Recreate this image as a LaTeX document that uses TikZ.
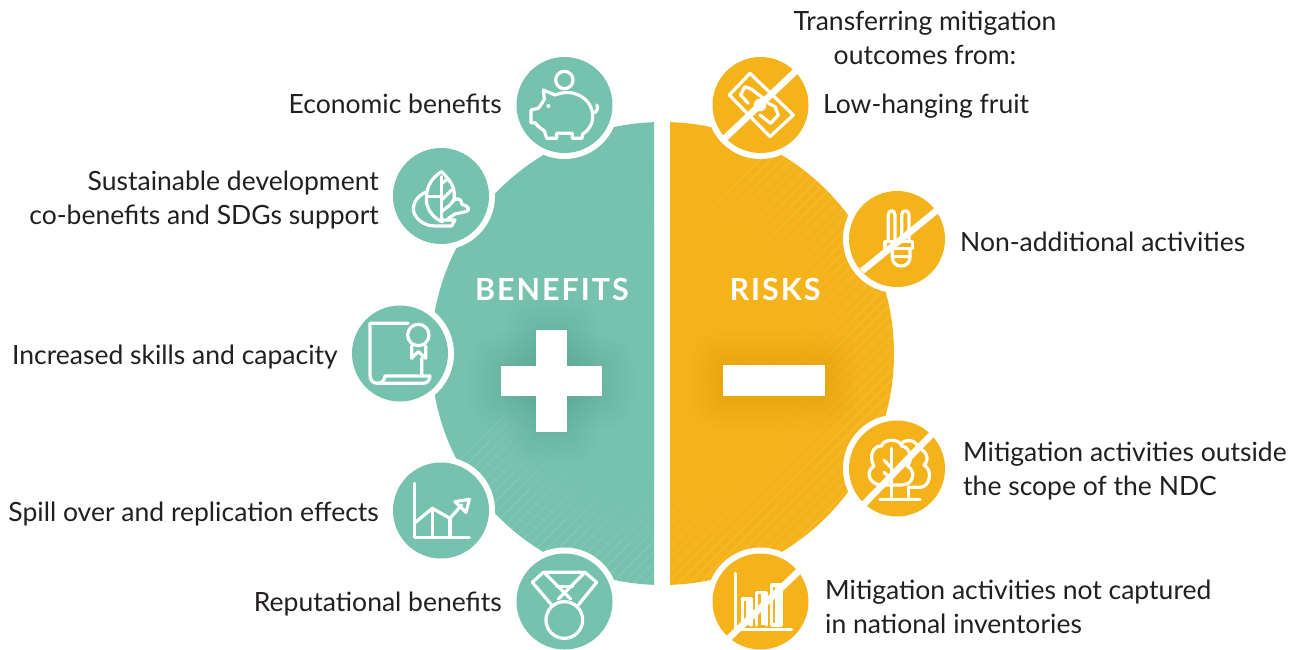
\documentclass[tikz,border=0pt]{standalone}
\usepackage{fontspec}
\setmainfont{Lato}
\newfontfamily\capsfont[LetterSpace=6.5]{Lato}
\definecolor{teal0}{HTML}{76C2AF}
\definecolor{amber0}{HTML}{F5B31B}
\definecolor{ink}{HTML}{231F20}
\tikzset{
  lbl/.style={inner sep=0pt,text=ink,font=\fontsize{26.5}{34}\selectfont},
  lblr/.style={lbl,anchor=east,align=right},
  lblrb/.style={lbl,anchor=base east},
  lbll/.style={lbl,anchor=west,align=left},
  lbllb/.style={lbl,anchor=base west},
  lblb/.style={lbl,anchor=center,align=center},
  head/.style={inner sep=0pt,text=white,anchor=base,font=\fontsize{30.5}{34}\capsfont\bfseries},
  badge/.style={circle,minimum size=96pt,inner sep=0pt,fill=#1},
  halo/.style={circle,minimum size=108pt,inner sep=0pt,fill=white},
  ic/.style={draw=white,line width=3.2pt,line join=round,line cap=round,fill=none},
  slash/.style={draw=white,line width=6.5pt},
  stripe/.style={draw=white,line width=0.9pt,opacity=0.13}
}
\newcommand{\softbox}[5]{% x1 y1 x2 y2 colour
  \foreach \g in {34,31,...,1}{
    \fill[#5,opacity=#5op,rounded corners=\g pt] (#1-\g,#2-\g) rectangle (#3+\g,#4+\g);
  }
}
\def\blackop{0.0045}
\renewcommand{\softbox}[4]{%
  \foreach \g in {34,31,...,1}{
    \fill[black,opacity=\blackop,rounded corners=\g pt] (#1-\g,#2-\g) rectangle (#3+\g,#4+\g);
  }
}
\begin{document}
\begin{tikzpicture}[x=1pt,y=-1pt]
\useasboundingbox (0,0) rectangle (1301,650);
\fill[white] (0,0) rectangle (1301,650);
% left half
\begin{scope}
  \clip (400,100) rectangle (654,610);
  \fill[teal0] (662.5,353.5) circle (231.5);
  \begin{scope}
    \clip (662.5,353.5) circle (231.5);
    \foreach \k in {0,11,...,900}{ \draw[stripe] (300+\k,620) -- (300+\k+540,80); }
  \end{scope}
  \foreach \r in {190,170,150,130}{ \fill[teal0,opacity=0.3] (662.5,353.5) circle (\r); }
\end{scope}
% right half
\begin{scope}
  \clip (670,100) rectangle (900,610);
  \fill[amber0] (662.5,353.5) circle (231.5);
  \begin{scope}
    \clip (662.5,353.5) circle (231.5);
    \foreach \k in {0,11,...,900}{ \draw[stripe] (300+\k,620) -- (300+\k+540,80); }
  \end{scope}
  \foreach \r in {190,170,150,130}{ \fill[amber0,opacity=0.3] (662.5,353.5) circle (\r); }
\end{scope}
% halos and badges
\foreach \x/\y in {564.5/105,441/196,400/353.5,441/510.5,564.5/601.5,760.5/105,897/239,897/468.5,760.5/601.5}{
  \node[halo] at (\x,\y) {};
}
\node[badge=teal0] (bEcon) at (564.5,105) {};
\node[badge=teal0] (bSust) at (441,196) {};
\node[badge=teal0] (bSkill) at (400,353.5) {};
\node[badge=teal0] (bSpill) at (441,510.5) {};
\node[badge=teal0] (bRep) at (564.5,601.5) {};
\node[badge=amber0] (rLow) at (760.5,105) {};
\node[badge=amber0] (rNon) at (897,239) {};
\node[badge=amber0] (rOut) at (897,468.5) {};
\node[badge=amber0] (rInv) at (760.5,601.5) {};
% plus / minus
\softbox{501}{366}{602}{396}
\softbox{536}{330}{567}{432}
\softbox{723}{365}{825}{396}
\fill[white] (501,366) rectangle (602,396);
\fill[white] (536,330) rectangle (567,432);
\fill[white] (723,365) rectangle (825,396);
% headings
\node[head] (hB) at (552,300) {BENEFITS};
\node[head] (hR) at (775,300) {RISKS};
% piggy
\begin{scope}[shift={(500,40)},x=0.3333pt,y=-0.3333pt]
  \draw[ic] (193,120) circle (26);
  \draw[ic] (130,150) -- (165,165) .. controls (190,155) and (215,155) .. (235,165) .. controls (270,180) and (285,215) .. (275,250) .. controls (268,268) and (255,278) .. (248,282) -- (246,295) -- (217,295) -- (217,280) -- (170,280) -- (170,295) -- (140,295) -- (133,272) .. controls (120,265) and (110,255) .. (105,248) -- (93,248) -- (93,210) -- (115,205) .. controls (122,195) and (128,188) .. (133,178) -- cycle;
  \draw[ic] (281,218) .. controls (290,218) and (295,205) .. (291,195);
  \fill[white] (145,198) circle (6);
\end{scope}
% leaf
\begin{scope}[shift={(340,140)},x=0.3333pt,y=-0.3333pt]
  \draw[ic] (305,95) .. controls (270,115) and (255,150) .. (260,190) .. controls (265,215) and (285,238) .. (308,245);
  \draw[ic] (305,95) .. controls (335,125) and (350,150) .. (340,185);
  \draw[ic] (305,110) -- (305,240);
  \draw[ic] (305,130) -- (322,118);
  \draw[ic] (305,180) -- (335,150);
  \draw[ic] (305,215) -- (330,195);
  \draw[ic] (262,155) .. controls (230,165) and (210,200) .. (225,225) .. controls (240,250) and (265,258) .. (285,258) -- (335,258) -- (345,240) -- (308,240);
  \draw[ic] (333,192) .. controls (343,170) and (365,172) .. (365,192) -- (378,198) .. controls (392,205) and (385,216) .. (372,216) -- (345,222) -- (325,235);
  \draw[ic] (260,170) -- (305,170);
\end{scope}
% scroll
\begin{scope}[shift={(340,140)},x=0.3333pt,y=-0.3333pt]
  \draw[ic] (205,550) -- (90,550) -- (90,705) .. controls (90,722) and (100,730) .. (112,730) .. controls (125,730) and (135,720) .. (135,708) -- (245,708);
  \draw[ic] (112,730) -- (250,730) .. controls (262,730) and (270,720) .. (270,708) -- (245,708) -- (245,655);
  \draw[ic] (235,585) circle (32);
  \draw[ic] (215,618) -- (215,655) -- (235,635) -- (257,655) -- (257,618);
\end{scope}
% chart
\begin{scope}[shift={(380,450)},x=0.3333pt,y=-0.3333pt]
  \draw[ic] (103,100) -- (103,262) -- (268,262);
  \draw[ic] (103,220) -- (157,175) -- (210,205) -- (245,165);
  \draw[ic] (157,175) -- (157,262);
  \draw[ic] (210,205) -- (210,262);
  \draw[ic] (225,155) -- (268,148) -- (258,187) -- cycle;
\end{scope}
% medal
\begin{scope}[shift={(380,450)},x=0.3333pt,y=-0.3333pt]
  \draw[ic] (553,510) circle (55);
  \draw[ic] (515,465) -- (457,397) -- (490,367) -- (615,367) -- (650,397) -- (595,465);
  \draw[ic] (495,370) -- (572,447);
  \draw[ic] (612,370) -- (535,447);
  \draw[ic] (530,410) -- (578,410);
\end{scope}
% banknote
\begin{scope}[shift={(500,40)},x=0.3333pt,y=-0.3333pt]
  \draw[ic] (750,100) -- (880,225) -- (810,290) -- (688,165) -- cycle;
  \draw[ic] (722,165) -- (735,140) -- (755,148) -- (790,175);
  \draw[ic] (722,165) -- (745,190);
  \draw[ic] (780,225) -- (812,250) -- (835,225) -- (825,200) -- (805,190);
  \fill[white] (780,195) circle (19);
\end{scope}
% bulb
\begin{scope}[shift={(830,180)},x=0.3333pt,y=-0.3333pt]
  \draw[ic] (175,185) -- (175,105) .. controls (175,88) and (195,88) .. (195,105) -- (195,185);
  \draw[ic] (215,185) -- (215,105) .. controls (215,88) and (237,88) .. (237,105) -- (237,185);
  \draw[ic] (165,185) rectangle (248,205);
  \draw[ic] (187,205) -- (187,230) .. controls (187,250) and (200,258) .. (213,258) .. controls (228,258) and (240,250) .. (240,230) -- (240,205);
  \draw[ic] (187,230) -- (240,230);
\end{scope}
% trees
\begin{scope}[shift={(700,410)},x=0.3333pt,y=-0.3333pt]
  \draw[ic] (548,225) .. controls (515,228) and (490,190) .. (522,168) .. controls (505,140) and (520,105) .. (545,108) .. controls (550,85) and (600,85) .. (605,108) .. controls (630,110) and (640,150) .. (622,168) .. controls (650,185) and (640,225) .. (605,225) -- cycle;
  \draw[ic] (605,100) .. controls (620,85) and (650,90) .. (655,115) .. controls (680,120) and (690,150) .. (672,165) .. controls (700,180) and (690,232) .. (660,232) -- (625,232);
  \draw[ic] (575,115) -- (575,265);
  \draw[ic] (552,150) -- (575,175);
  \draw[ic] (552,187) -- (575,208);
  \draw[ic] (625,232) -- (625,265);
  \draw[ic] (540,268) -- (660,268);
\end{scope}
% bars
\begin{scope}[shift={(700,410)},x=0.3333pt,y=-0.3333pt]
  \draw[ic] (107,490) -- (107,660);
  \draw[ic] (107,658) -- (275,658);
  \draw[ic] (127,645) -- (127,567) -- (153,567) -- (153,645);
  \fill[white] (138,567) rectangle (155,645);
  \draw[ic] (170,645) -- (170,547) -- (200,547) -- (200,645);
  \fill[white] (183,547) rectangle (200,645);
  \draw[ic] (215,645) -- (215,525) -- (243,525) -- (243,645) -- cycle;
  \fill[white] (226,525) rectangle (243,645);
\end{scope}
% slashes
\coordinate (s1a) at (724,139); \coordinate (s1b) at (799,68);
\coordinate (s2a) at (862,271); \coordinate (s2b) at (941,207);
\coordinate (s3a) at (864,504); \coordinate (s3b) at (934,432);
\coordinate (s4a) at (729,638); \coordinate (s4b) at (801,569);
\draw[slash] (s1a) -- (s1b);
\draw[slash] (s2a) -- (s2b);
\draw[slash] (s3a) -- (s3b);
\draw[slash] (s4a) -- (s4b);
% labels
\node[lblrb] (t1) at (502,113.5) {Economic benefits};
\node[lblr] (t2) at (379,200.5) {Sustainable development\\co-benefits and SDGs support};
\node[lblrb] (t3) at (338,364) {Increased skills and capacity};
\node[lblrb] (t4) at (379,521) {Spill over and replication effects};
\node[lblrb] (t5) at (502,611.5) {Reputational benefits};
\node[lblb] (t6) at (925,38) {Transferring mitigation\\outcomes from:};
\node[lbllb] (t7) at (823,113.5) {Low-hanging fruit};
\node[lbllb] (t8) at (960,251) {Non-additional activities};
\node[lbll] (t9) at (963,471.5) {Mitigation activities outside\\the scope of the NDC};
\node[lbll] (t10) at (825,606.5) {Mitigation activities not captured\\in national inventories};
\end{tikzpicture}
\end{document}
